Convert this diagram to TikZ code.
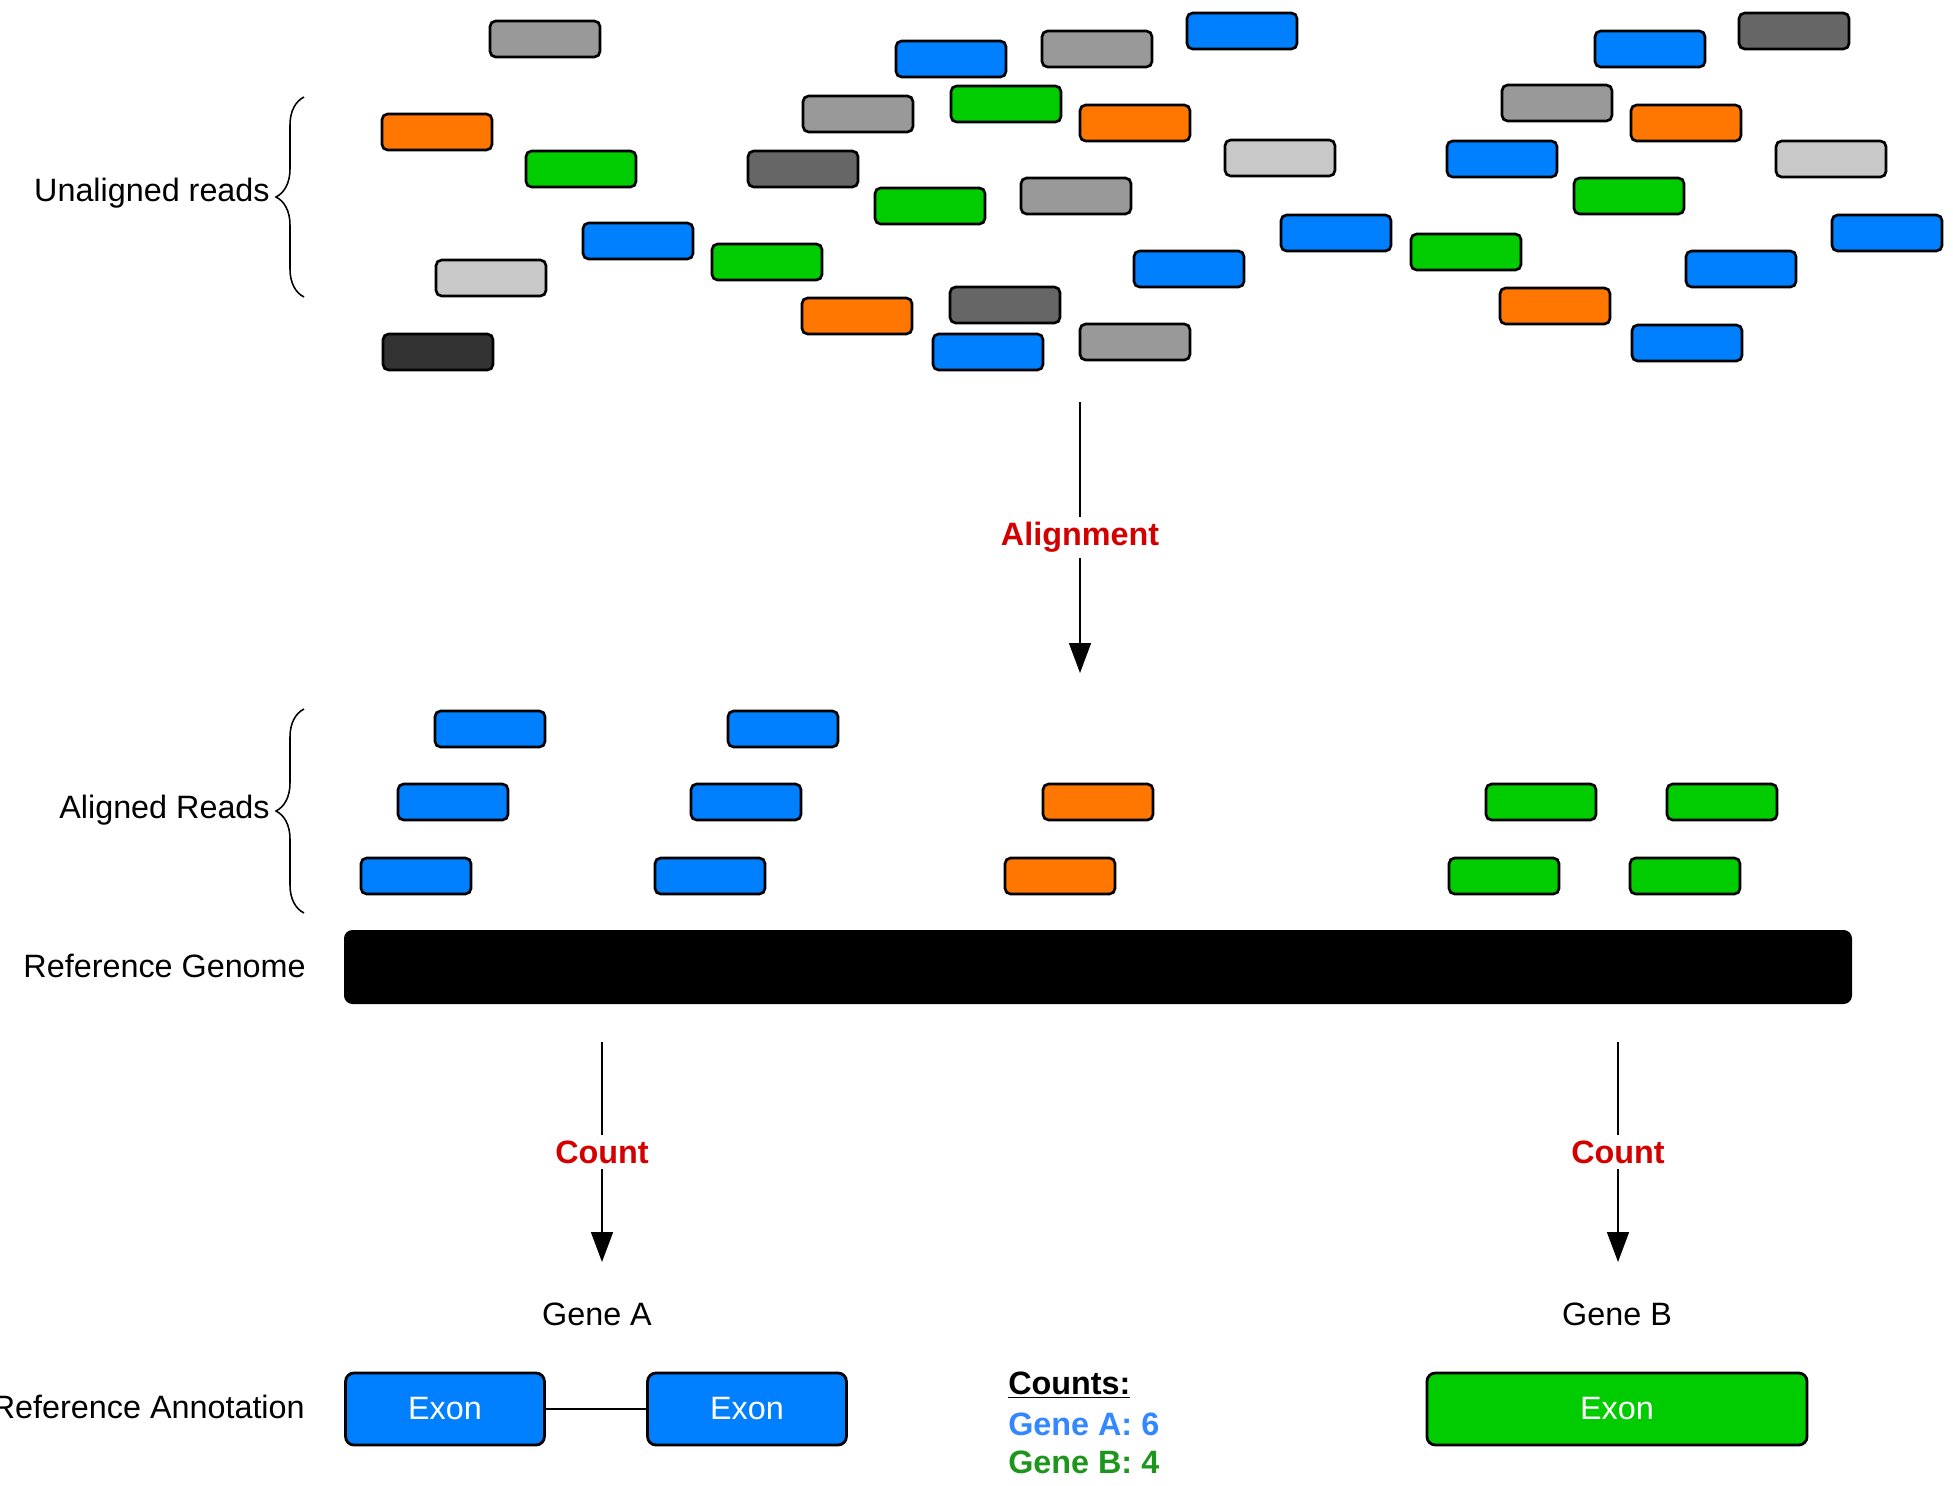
\documentclass[tikz,border=0pt]{standalone}
\usepackage{fontspec}
\setmainfont{Liberation Sans}
\usetikzlibrary{arrows.meta,decorations.pathreplacing}

\definecolor{readblue}{HTML}{007FFF}
\definecolor{readgreen}{HTML}{00CC00}
\definecolor{readorange}{HTML}{FF7700}
\definecolor{readgray}{HTML}{999999}
\definecolor{readlight}{HTML}{C8C8C8}
\definecolor{readdark}{HTML}{666666}
\definecolor{readblack}{HTML}{333333}
\definecolor{steplabel}{HTML}{D40000}
\definecolor{countblue}{HTML}{3388FF}
\definecolor{countgreen}{HTML}{1E961E}

\newcommand{\diagfont}{\fontsize{23}{27}\selectfont}

\begin{document}
\begin{tikzpicture}[x=0.025cm, y=-0.025cm,
    readbox/.style={draw=black, line width=1.9pt, rounded corners=4pt, minimum width=2.75cm, minimum height=0.9cm, inner sep=0pt},
    exonbox/.style={draw=black, line width=2pt, rounded corners=6pt, minimum height=1.8cm, inner sep=0pt, text=white, font=\diagfont},
    sidetext/.style={inner sep=0pt, font=\diagfont},
    steptext/.style={inner sep=4pt, fill=white, text=steplabel, font=\diagfont\bfseries},
    flow/.style={line width=1.1pt, -{Triangle[width=0.55cm,length=0.75cm]}},
    bracket/.style={line width=1.1pt, decorate, decoration={brace, amplitude=0.7cm}}]

    \useasboundingbox (0,0) rectangle (1953,1486);

    % Unaligned reads (left group)
    \node[readbox, fill=readgray] (r1) at (545,39) {};
    \node[readbox, fill=readorange] (r2) at (437,132) {};
    \node[readbox, fill=readgreen] (r3) at (581,169) {};
    \node[readbox, fill=readblue] (r4) at (638,241) {};
    \node[readbox, fill=readlight] (r5) at (491,278) {};
    \node[readbox, fill=readblack] (r6) at (438,352) {};

    % Unaligned reads (middle group)
    \node[readbox, fill=readblue] (r7) at (951,59) {};
    \node[readbox, fill=readgray] (r8) at (1097,49) {};
    \node[readbox, fill=readblue] (r9) at (1242,31) {};
    \node[readbox, fill=readgray] (r10) at (858,114) {};
    \node[readbox, fill=readgreen] (r11) at (1006,104) {};
    \node[readbox, fill=readorange] (r12) at (1135,123) {};
    \node[readbox, fill=readlight] (r13) at (1280,158) {};
    \node[readbox, fill=readdark] (r14) at (803,169) {};
    \node[readbox, fill=readgreen] (r15) at (930,206) {};
    \node[readbox, fill=readgray] (r16) at (1076,196) {};
    \node[readbox, fill=readblue] (r17) at (1336,233) {};
    \node[readbox, fill=readgreen] (r18) at (767,262) {};
    \node[readbox, fill=readblue] (r19) at (1189,269) {};
    \node[readbox, fill=readorange] (r20) at (857,316) {};
    \node[readbox, fill=readdark] (r21) at (1005,305) {};
    \node[readbox, fill=readblue] (r22) at (988,352) {};
    \node[readbox, fill=readgray] (r23) at (1135,342) {};

    % Unaligned reads (right group)
    \node[readbox, fill=readblue] (r24) at (1650,49) {};
    \node[readbox, fill=readdark] (r25) at (1794,31) {};
    \node[readbox, fill=readgray] (r26) at (1557,103) {};
    \node[readbox, fill=readorange] (r27) at (1686,123) {};
    \node[readbox, fill=readblue] (r28) at (1502,159) {};
    \node[readbox, fill=readlight] (r29) at (1831,159) {};
    \node[readbox, fill=readgreen] (r30) at (1629,196) {};
    \node[readbox, fill=readblue] (r31) at (1887,233) {};
    \node[readbox, fill=readgreen] (r32) at (1466,252) {};
    \node[readbox, fill=readblue] (r33) at (1741,269) {};
    \node[readbox, fill=readorange] (r34) at (1555,306) {};
    \node[readbox, fill=readblue] (r35) at (1687,343) {};

    % Label and brace for the unaligned reads
    \node[sidetext, anchor=east] (unaligned) at (270,193) {Unaligned reads};
    \coordinate (ub1) at (304,297);
    \coordinate (ub2) at (304,97);
    \draw[bracket] (ub1) -- (ub2);

    % Alignment step
    \coordinate (al1) at (1080,402);
    \coordinate (al2) at (1080,673);
    \draw[flow] (al1) -- node[steptext] {Alignment} (al2);

    % Aligned reads, stacked over the genome
    \node[readbox, fill=readblue] (a1) at (490,729) {};
    \node[readbox, fill=readblue] (a2) at (783,729) {};
    \node[readbox, fill=readblue] (a3) at (453,802) {};
    \node[readbox, fill=readblue] (a4) at (746,802) {};
    \node[readbox, fill=readorange] (a5) at (1098,802) {};
    \node[readbox, fill=readgreen] (a6) at (1541,802) {};
    \node[readbox, fill=readgreen] (a7) at (1722,802) {};
    \node[readbox, fill=readblue] (a8) at (416,876) {};
    \node[readbox, fill=readblue] (a9) at (710,876) {};
    \node[readbox, fill=readorange] (a10) at (1060,876) {};
    \node[readbox, fill=readgreen] (a11) at (1504,876) {};
    \node[readbox, fill=readgreen] (a12) at (1685,876) {};

    % Label and brace for the aligned reads
    \node[sidetext, anchor=east] (aligned) at (270,810) {Aligned Reads};
    \coordinate (ab1) at (304,913);
    \coordinate (ab2) at (304,709);
    \draw[bracket] (ab1) -- (ab2);

    % Reference genome bar
    \fill[black, rounded corners=6pt] (344,930) rectangle (1852,1004);
    \node[sidetext, anchor=east] (genome) at (306,966) {Reference Genome};

    % Counting steps
    \coordinate (ca1) at (602,1042);
    \coordinate (ca2) at (602,1262);
    \draw[flow] (ca1) -- node[steptext] {Count} (ca2);
    \coordinate (cb1) at (1618,1042);
    \coordinate (cb2) at (1618,1262);
    \draw[flow] (cb1) -- node[steptext] {Count} (cb2);

    \node[sidetext] (genea) at (597,1314) {Gene A};
    \node[sidetext] (geneb) at (1617,1314) {Gene B};

    % Reference annotation
    \node[sidetext, anchor=east] (annot) at (305,1407) {Reference Annotation};
    \node[exonbox, fill=readblue, minimum width=4.97cm] (ex1) at (445,1409) {Exon};
    \node[exonbox, fill=readblue, minimum width=4.97cm] (ex2) at (747,1409) {Exon};
    \node[exonbox, fill=readgreen, minimum width=9.5cm] (ex3) at (1617,1409) {Exon};
    \draw[line width=1.2pt] (ex1) -- (ex2);

    % Count summary
    \node[sidetext, anchor=west, font=\diagfont\bfseries] (cnt) at (1008,1385) {\underline{Counts:}};
    \node[sidetext, anchor=west, font=\diagfont\bfseries, text=countblue] (cnta) at (1008,1424) {Gene A: 6};
    \node[sidetext, anchor=west, font=\diagfont\bfseries, text=countgreen] (cntb) at (1008,1462) {Gene B: 4};
\end{tikzpicture}
\end{document}
